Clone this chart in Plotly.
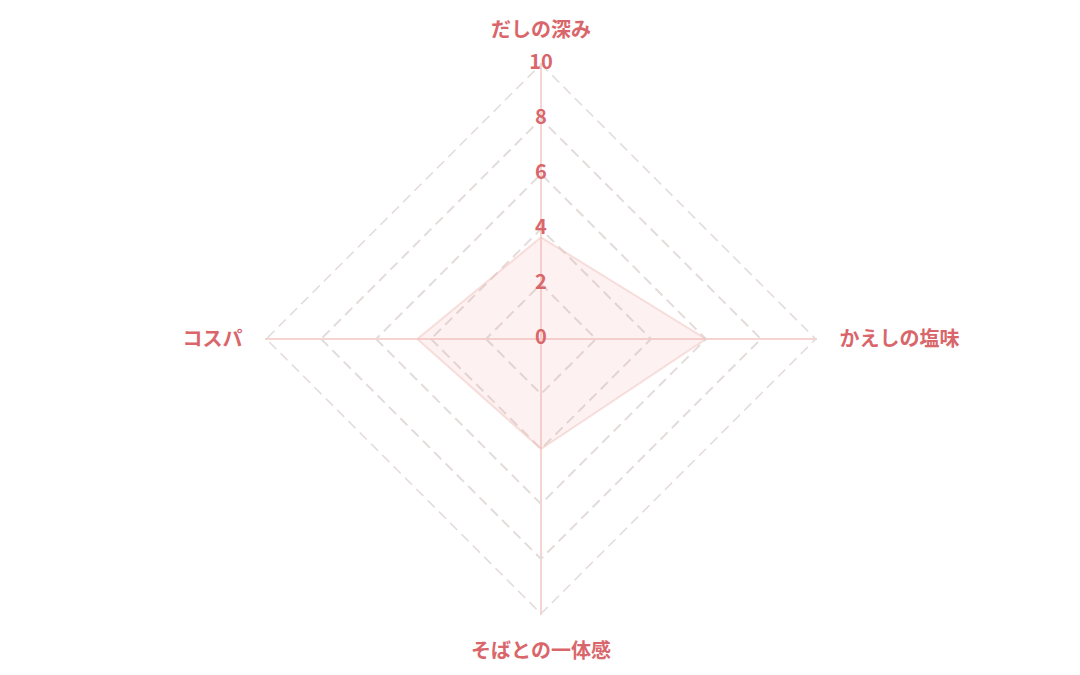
import plotly.graph_objects as go

categories = ["だしの深み", "かえしの塩味", "そばとの一体感", "コスパ"]
values = [3.7, 6.0, 4.0, 4.5]
tick_values = [0, 2, 4, 6, 8, 10]
tick_labels = ["0", "2", "4", "6", "8", "10"]

LABEL = "#d9666b"
GRID = "#e3dcda"
FONT = "Noto Sans CJK JP"
R_MAX = 10

fig = go.Figure()

fig.add_trace(go.Scatterpolar(
    r=values + values[:1],
    theta=categories + categories[:1],
    mode="lines",
    fill="toself",
    fillcolor="rgba(245,170,165,0.16)",
    line=dict(color="rgba(240,195,190,0.5)", width=2),
    hoverinfo="skip",
    showlegend=False,
))

# outer dashed ring (same style as the inner grid rings)
fig.add_trace(go.Scatterpolar(
    r=[R_MAX] * (len(categories) + 1),
    theta=categories + categories[:1],
    mode="lines",
    line=dict(color=GRID, width=1.8, dash="10px,6px"),
    hoverinfo="skip",
    showlegend=False,
    cliponaxis=False,
))

# radial tick labels along the top axis (plotly hides points at exactly r=0)
label_r = [max(v, 1e-3) for v in tick_values]
fig.add_trace(go.Scatterpolar(
    r=label_r,
    theta=[categories[0]] * len(tick_values),
    mode="text",
    text=tick_labels,
    textposition="middle center",
    textfont=dict(family=FONT, size=20, color=LABEL, weight="bold"),
    hoverinfo="skip",
    showlegend=False,
    cliponaxis=False,
))

fig.update_layout(
    width=1080,
    height=675,
    paper_bgcolor="white",
    plot_bgcolor="white",
    margin=dict(l=33, r=47, t=55, b=68),
    font=dict(family=FONT),
    polar=dict(
        bgcolor="white",
        domain=dict(x=[0, 1], y=[0, 1]),
        radialaxis=dict(
            range=[0, R_MAX * 1.004],
            tickvals=tick_values[:-1],
            showticklabels=False,
            ticks="",
            showline=False,
            gridcolor=GRID,
            griddash="10px,6px",
            gridwidth=1.5,
            angle=90,
        ),
        angularaxis=dict(
            rotation=90,
            direction="clockwise",
            categoryorder="array",
            categoryarray=categories,
            showline=False,
            gridcolor="#f6d4d1",
            gridwidth=1.5,
            ticks="outside",
            ticklen=18,
            tickcolor="rgba(0,0,0,0)",
            tickfont=dict(family=FONT, size=20, color=LABEL, weight="bold"),
        ),
        gridshape="linear",
    ),
)

fig.write_html("out.html")
